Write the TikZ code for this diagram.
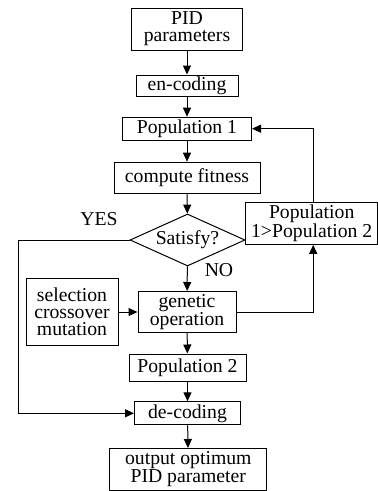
\documentclass[tikz,border=0pt]{standalone}
\usepackage{fontspec}
\setmainfont{Liberation Serif}
\usetikzlibrary{arrows.meta,shapes.geometric}
\begin{document}
\begin{tikzpicture}[x=1pt,y=-1pt,
 txt/.style={font=\fontsize{19.7}{17}\selectfont},
 box/.style={txt,draw,line width=1pt,inner sep=0pt,align=center},
 dia/.style={txt,draw,line width=1pt,inner sep=0pt,diamond,aspect=2.2,minimum width=115pt,minimum height=52pt},
 arr/.style={line width=1pt,-{Triangle[length=9pt,width=8pt]}},
 lbl/.style={txt,inner sep=0pt}]
\useasboundingbox (0,0) rectangle (378,491);
\node[box,minimum width=111pt,minimum height=42pt] (pid) at (187,29) {PID\\parameters};
\node[box,minimum width=102pt,minimum height=21pt] (enc) at (187,85.5) {en-coding};
\node[box,minimum width=129pt,minimum height=23pt] (pop1) at (187,128.7) {Population 1};
\node[box,minimum width=146pt,minimum height=31pt] (fit) at (187,177.7) {compute fitness};
\node[dia] (sat) at (187.5,240) {Satisfy?};
\node[box,minimum width=132pt,minimum height=42pt] (pg) at (311.7,223.3) {Population\\1>Population 2};
\node[box,minimum width=92pt,minimum height=67pt] (sel) at (72,312) {selection\\crossover\\mutation};
\node[box,minimum width=98pt,minimum height=41pt] (gen) at (187,312) {genetic\\operation};
\node[box,minimum width=117pt,minimum height=27pt] (pop2) at (187.5,367.5) {Population 2};
\node[box,minimum width=106pt,minimum height=23pt] (dec) at (187.5,413.3) {de-coding};
\node[box,minimum width=157pt,minimum height=42pt] (out) at (188.3,469.5) {output optimum\\PID parameter};
\node[lbl] (yes) at (99,219) {YES};
\node[lbl] (no) at (219,270) {NO};
\coordinate (yl) at (18,240);
\draw[arr] (pid) -- (enc);
\draw[arr] (enc) -- (pop1);
\draw[arr] (pop1) -- (fit);
\draw[arr] (fit) -- (sat);
\draw[arr] (sat) -- (gen);
\draw[arr] (sel) -- (gen);
\draw[arr] (gen) -- (pop2);
\draw[arr] (pop2) -- (dec);
\draw[arr] (dec) -- (out);
\draw[arr] (gen.east) -| ([xshift=1.5pt]pg.south);
\draw[arr] ([xshift=1.5pt]pg.north) |- (pop1.east);
\draw[arr] (sat.west) -- (yl) |- (dec.west);
\end{tikzpicture}
\end{document}
